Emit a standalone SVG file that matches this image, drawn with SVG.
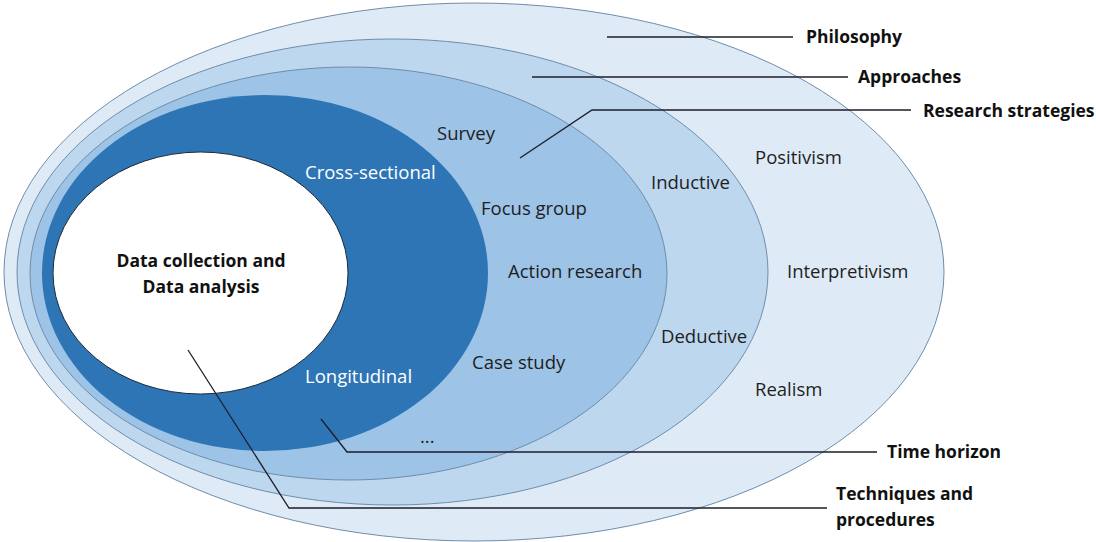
<svg xmlns="http://www.w3.org/2000/svg" width="1096" height="542" viewBox="0 0 1096 542">
<style>
.ring{stroke:#6F8DAB;stroke-width:1}
.t{font-family:"Open Sans","Liberation Sans",sans-serif;font-size:18.5px;fill:#1E1E1E}
.w{fill:#FFFFFF}
.b{font-family:"Open Sans","Liberation Sans",sans-serif;font-size:17.5px;font-weight:bold;fill:#111111}
.c{fill:none;stroke:#1E1E2A;stroke-width:1.3}
</style>
<rect width="1096" height="542" fill="#FFFFFF"/>
<g id="philosophy">
<ellipse class="ring" cx="474" cy="272" rx="470" ry="269" fill="#DEEBF7"/>
<text class="t" x="755" y="164">Positivism</text>
<text class="t" x="787" y="278">Interpretivism</text>
<text class="t" x="755" y="396">Realism</text>
</g>
<g id="approaches">
<ellipse class="ring" cx="392.5" cy="272" rx="375.5" ry="233" fill="#BDD7EE"/>
<text class="t" x="651" y="189">Inductive</text>
<text class="t" x="661" y="343">Deductive</text>
</g>
<g id="strategies">
<ellipse class="ring" cx="348.5" cy="273.5" rx="318.5" ry="206.5" fill="#9DC3E6"/>
<text class="t" x="437" y="140">Survey</text>
<text class="t" x="481" y="215">Focus group</text>
<text class="t" x="508" y="278">Action research</text>
<text class="t" x="472" y="369">Case study</text>
<text class="t" x="420" y="443">...</text>
</g>
<g id="time-horizon">
<ellipse cx="265" cy="273" rx="223" ry="178" fill="#2E75B6"/>
<text class="t w" x="305" y="179">Cross-sectional</text>
<text class="t w" x="305" y="383">Longitudinal</text>
</g>
<g id="data">
<ellipse cx="200.5" cy="273" rx="147.5" ry="121" fill="#FFFFFF" stroke="#1E2A3A" stroke-width="1"/>
<text class="b" x="201" y="267" text-anchor="middle">Data collection and</text>
<text class="b" x="201" y="293" text-anchor="middle">Data analysis</text>
</g>
<g id="connectors">
<polyline class="c" points="607,37 793,37"/>
<polyline class="c" points="532,77 848,77"/>
<polyline class="c" points="520,158 592,110 911,110"/>
<polyline class="c" points="321,419 347,452 877,452"/>
<polyline class="c" points="188,350 289,508 827,508"/>
</g>
<g id="labels">
<text class="b" x="806" y="43">Philosophy</text>
<text class="b" x="858" y="83">Approaches</text>
<text class="b" x="923" y="117">Research strategies</text>
<text class="b" x="887" y="458">Time horizon</text>
<text class="b" x="836" y="500">Techniques and</text>
<text class="b" x="836" y="526">procedures</text>
</g>
</svg>
